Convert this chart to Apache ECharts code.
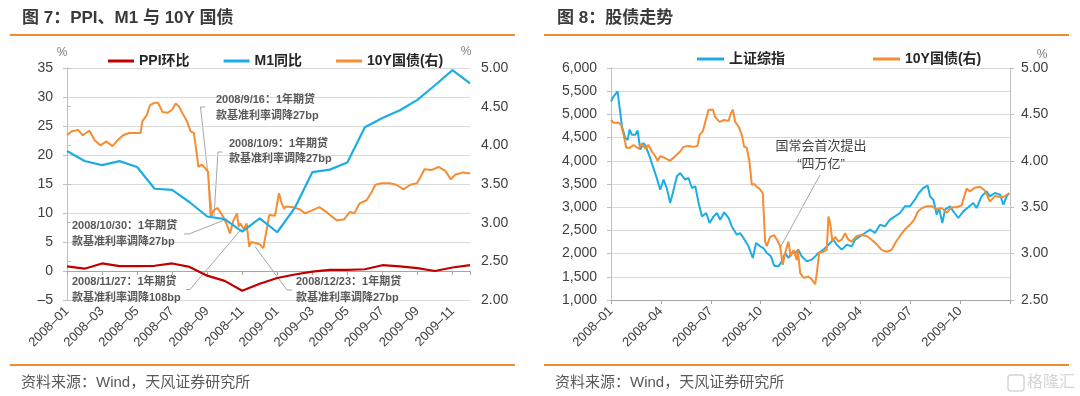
<!DOCTYPE html>
<html>
<head>
<meta charset="utf-8">
<script src="https://cdn.jsdelivr.net/npm/echarts@6/dist/echarts.min.js"></script>
<style>
html, body { margin: 0; padding: 0; background: #fff; }
#main { width: 1080px; height: 396px; }
</style>
</head>
<body>
<div id="main"></div>
<script>
// ---- figure 7: PPI / M1 / 10Y ----
var months7 = ['2008-01','2008-02','2008-03','2008-04','2008-05','2008-06','2008-07','2008-08','2008-09','2008-10','2008-11','2008-12',
               '2009-01','2009-02','2009-03','2009-04','2009-05','2009-06','2009-07','2009-08','2009-09','2009-10','2009-11','2009-12'];
var ppiMoM = [0.8, 0.4, 1.3, 0.85, 0.85, 0.9, 1.3, 0.7, -0.8, -1.7, -3.4, -2.2,
              -1.2, -0.6, -0.1, 0.2, 0.2, 0.3, 1.0, 0.8, 0.5, 0.0, 0.6, 1.0];
var m1YoY = [20.69, 18.97, 18.25, 18.94, 17.93, 14.18, 14.0, 11.85, 9.4, 8.94, 6.8, 9.06,
             6.68, 10.87, 17.04, 17.48, 18.69, 24.79, 26.37, 27.72, 29.51, 32.03, 34.63, 32.35];
// 10Y yield, x = months since 2008-01
var bond7X = [0, 0.25, 0.63, 0.9, 1.28, 1.57, 1.9, 2.25, 2.6, 2.9, 3.2, 3.55, 4.2, 4.3, 4.55, 4.74, 4.98, 5.2, 5.45, 5.73,
              6.0, 6.2, 6.4, 6.6, 6.85, 7.05, 7.24, 7.4, 7.5, 7.7, 7.9, 8.05, 8.1, 8.2, 8.37, 8.6, 8.9, 9.1, 9.3, 9.5,
              9.7, 9.8, 9.9, 10.1, 10.25, 10.4, 10.5, 10.7, 11.0, 11.2, 11.43, 11.54, 11.87, 12.1, 12.25, 12.4, 12.5, 12.9, 13.3, 13.6,
              14.0, 14.4, 14.8, 15.0, 15.4, 15.8, 16.15, 16.4, 16.7, 17.1, 17.4, 17.6, 17.97, 18.4, 18.8, 19.2, 19.6, 19.97, 20.25, 20.4,
              20.8, 21.2, 21.6, 21.9, 22.15, 22.6, 22.9, 23];
var bond7Y = [4.13, 4.18, 4.20, 4.13, 4.19, 4.07, 4.00, 4.05, 3.99, 4.07, 4.13, 4.16, 4.16, 4.31, 4.39, 4.52, 4.55, 4.55, 4.43, 4.42,
              4.46, 4.54, 4.50, 4.41, 4.31, 4.18, 4.16, 3.90, 3.72, 3.75, 3.70, 3.66, 3.47, 3.08, 3.16, 3.19, 3.08, 2.99, 2.86, 3.03,
              3.12, 2.95, 2.99, 2.91, 2.99, 2.69, 2.75, 2.74, 2.72, 2.67, 2.95, 3.10, 3.09, 3.38, 3.25, 3.18, 3.21, 3.20, 3.17, 3.12,
              3.16, 3.20, 3.14, 3.10, 3.03, 3.04, 3.14, 3.12, 3.25, 3.29, 3.40, 3.49, 3.51, 3.51, 3.49, 3.43, 3.49, 3.51, 3.62, 3.69,
              3.68, 3.72, 3.67, 3.56, 3.62, 3.65, 3.64, 3.64];

// ---- figure 8: SH composite / 10Y ----
var quarters8 = ['2008-01','2008-04','2008-07','2008-10','2009-01','2009-04','2009-07','2009-10'];
var sh8X = [0, 0.16, 0.4, 0.52, 0.66, 0.86, 1.0, 1.12, 1.26, 1.46, 1.6, 1.76, 1.96, 2.1, 2.32, 2.52, 2.72, 2.96, 3.16, 3.36,
            3.56, 3.72, 3.96, 4.16, 4.46, 4.66, 4.87, 5.07, 5.27, 5.47, 5.73, 5.93, 6.17, 6.37, 6.57, 6.81, 7.07, 7.27, 7.57, 7.77,
            7.97, 8.27, 8.53, 8.73, 8.97, 9.17, 9.37, 9.62, 9.81, 10.07, 10.28, 10.48, 10.67, 10.87, 11.08, 11.27, 11.47, 11.78, 12.08, 12.28,
            12.48, 12.78, 13.08, 13.38, 13.58, 13.88, 14.18, 14.48, 14.68, 14.98, 15.28, 15.58, 15.88, 16.18, 16.48, 16.78, 17.08, 17.38, 17.68, 17.98,
            18.28, 18.52, 18.78, 19.05, 19.19, 19.39, 19.59, 19.73, 19.93, 20.09, 20.39, 20.59, 20.89, 21.19, 21.49, 21.79, 21.99, 22.29, 22.59, 22.79,
            23.09, 23.4, 23.6, 23.8, 23.95];
var sh8Y = [5280, 5390, 5496, 5138, 4741, 4491, 4450, 4670, 4560, 4560, 4655, 4240, 4384, 4300, 4095, 3880, 3664, 3377, 3593, 3400,
            3090, 3306, 3664, 3737, 3593, 3630, 3414, 3450, 3090, 2802, 2875, 2660, 2802, 2875, 2730, 2890, 2770, 2586, 2408, 2440,
            2336, 2156, 1905, 2229, 2156, 2120, 2013, 1941, 1740, 1726, 1832, 2013, 1905, 2013, 2013, 2085, 1941, 1832, 1870, 1941,
            2013, 2085, 2192, 2300, 2192, 2085, 2192, 2156, 2300, 2372, 2444, 2515, 2444, 2623, 2587, 2731, 2802, 2875, 3018, 3018,
            3162, 3306, 3414, 3464, 3233, 3162, 2838, 2982, 2660, 2946, 3018, 2910, 2767, 2910, 3000, 3090, 2983, 3233, 3342, 3233,
            3306, 3270, 3054, 3233, 3306];
var bond8X = [0, 0.16, 0.46, 0.6, 0.76, 0.92, 1.12, 1.36, 1.66, 1.86, 2.06, 2.26, 2.46, 2.66, 2.8, 2.96, 3.26, 3.56, 3.86, 4.16,
              4.36, 4.66, 4.96, 5.2, 5.33, 5.53, 5.73, 5.87, 6.13, 6.27, 6.53, 6.8, 7.07, 7.21, 7.33, 7.47, 7.67, 7.87, 8.01, 8.17,
              8.33, 8.47, 8.61, 8.77, 8.93, 9.13, 9.27, 9.37, 9.57, 9.81, 10.01, 10.17, 10.33, 10.48, 10.67, 10.81, 10.98, 11.18, 11.24, 11.38,
              11.58, 11.88, 12.08, 12.28, 12.38, 12.52, 12.78, 12.98, 13.08, 13.18, 13.32, 13.48, 13.68, 13.88, 14.08, 14.28, 14.48, 14.78, 15.08, 15.38,
              15.68, 15.98, 16.28, 16.58, 16.88, 17.08, 17.38, 17.68, 17.98, 18.25, 18.45, 18.7, 18.99, 19.29, 19.59, 19.89, 20.19, 20.49, 20.79, 21.09,
              21.39, 21.59, 21.89, 22.19, 22.49, 22.79, 23.09, 23.4, 23.6, 23.95];
var bond8Y = [4.44, 4.41, 4.41, 4.39, 4.28, 4.14, 4.14, 4.17, 4.13, 4.19, 4.13, 4.17, 4.10, 4.05, 4.00, 4.05, 4.03, 4.00, 4.05, 4.10,
              4.15, 4.16, 4.15, 4.16, 4.28, 4.32, 4.46, 4.55, 4.55, 4.47, 4.42, 4.44, 4.43, 4.51, 4.55, 4.42, 4.37, 4.28, 4.15, 4.14,
              3.99, 3.74, 3.75, 3.72, 3.70, 3.65, 3.13, 3.08, 3.18, 3.20, 3.14, 3.08, 2.88, 3.01, 3.13, 2.97, 3.04, 2.93, 3.04, 2.79,
              2.74, 2.75, 2.72, 2.67, 2.79, 3.01, 3.02, 3.04, 3.40, 3.33, 3.13, 3.18, 3.13, 3.15, 3.22, 3.15, 3.13, 3.19, 3.20, 3.19,
              3.15, 3.10, 3.04, 3.02, 3.04, 3.11, 3.19, 3.26, 3.31, 3.37, 3.45, 3.49, 3.51, 3.51, 3.48, 3.49, 3.44, 3.50, 3.50, 3.52,
              3.70, 3.67, 3.71, 3.72, 3.68, 3.56, 3.62, 3.61, 3.61, 3.65];

function zip(xs, ys) { return xs.map(function (x, i) { return [x, ys[i]]; }); }
function idx(arr) { return arr.map(function (v, i) { return [i, v]; }); }
function dash(s) { return String(s).replace('-', '–'); }

var RED = '#C00000', BLUE = '#1DADE5', ORANGE = '#F58D33';
var GRID = '#D9D9D9', AXIS = '#BFBFBF', LABEL = '#404040';
var FONT = "'Liberation Sans', Arial, 'Noto Sans CJK SC', sans-serif";

var chart = echarts.init(document.getElementById('main'), null, { renderer: 'canvas' });

function valueY(gridIndex, min, max, interval, pos, fmt, split) {
  return {
    type: 'value', gridIndex: gridIndex, position: pos, min: min, max: max, interval: interval,
    axisLine: { show: true, lineStyle: { color: AXIS } },
    axisTick: { show: true, length: 4, lineStyle: { color: AXIS } },
    axisLabel: { color: LABEL, fontSize: 14, margin: pos === 'left' ? 14 : 11, formatter: fmt },
    splitLine: { show: split, lineStyle: { color: GRID } }
  };
}

// annotations (figure 7)
var notes7 = [
  { l1: '2008/9/16：1年期贷', l2: '款基准利率调降27bp', x: 216, y: 100, line: [[205, 107], [200.5, 107], [212.5, 216]] },
  { l1: '2008/10/9：1年期贷', l2: '款基准利率调降27bp', x: 229, y: 143.5, line: [[222.5, 152], [218, 152], [214, 216]] },
  { l1: '2008/10/30：1年期贷', l2: '款基准利率调降27bp', x: 72, y: 226, line: [[184, 234], [189, 234], [227, 219]] },
  { l1: '2008/11/27：1年期贷', l2: '款基准利率调降108bp', x: 72, y: 282, line: [[186, 289.5], [190, 289.5], [241.5, 229]] },
  { l1: '2008/12/23：1年期贷', l2: '款基准利率调降27bp', x: 296, y: 282, line: [[292, 290], [287, 290], [255, 246.5]] }
];

var graphics = [];
function text(x, y, s, opt) {
  var st = { x: x, y: y, text: s, fill: opt.color || LABEL, fontSize: opt.size || 14,
             fontWeight: opt.bold ? 'bold' : 'normal', fontFamily: FONT,
             textAlign: opt.align || 'left', textVerticalAlign: 'middle' };
  graphics.push({ type: 'text', silent: true, z: 10, style: st });
}
function hline(x1, x2, y) {
  graphics.push({ type: 'line', silent: true, shape: { x1: x1, y1: y, x2: x2, y2: y },
                  style: { stroke: '#F08C2E', lineWidth: 2 } });
}

// headings, rules and sources
text(22, 18, '图 7：PPI、M1 与 10Y 国债', { size: 17, bold: true, color: '#3A3A3A' });
text(557, 18, '图 8：股债走势', { size: 17, bold: true, color: '#3A3A3A' });
hline(10, 515, 35);
hline(544, 1069, 35);
hline(10, 515, 365);
hline(544, 1069, 365);
text(21, 383, '资料来源：Wind，天风证券研究所', { size: 15, color: '#595959' });
text(555, 383, '资料来源：Wind，天风证券研究所', { size: 15, color: '#595959' });
graphics.push({ type: 'rect', silent: true, shape: { x: 1008, y: 375, width: 16, height: 16, r: 3 },
                style: { fill: 'none', stroke: '#D5D5D5', lineWidth: 1.5 } });
text(1027, 383, '格隆汇', { size: 16, color: '#D5D5D5' });

// units
text(62, 53, '%', { size: 12, color: '#7F7F7F', align: 'center' });
text(466, 52, '%', { size: 12, color: '#7F7F7F', align: 'center' });
text(1042, 55, '%', { size: 12, color: '#7F7F7F', align: 'center' });

notes7.forEach(function (n) {
  graphics.push({ type: 'polyline', silent: true, shape: { points: n.line },
                  style: { stroke: '#A6A6A6', lineWidth: 1, fill: 'none' } });
  text(n.x, n.y, n.l1, { size: 11, bold: true, color: '#595959' });
  text(n.x, n.y + 15.5, n.l2, { size: 11, bold: true, color: '#595959' });
});

graphics.push({ type: 'line', silent: true, shape: { x1: 820, y1: 175, x2: 780, y2: 248 },
                style: { stroke: '#A6A6A6', lineWidth: 1 } });
text(821, 146, '国常会首次提出', { size: 13, color: '#404040', align: 'center' });
text(821, 164.5, '“四万亿”', { size: 13, color: '#404040', align: 'center' });

var option = {
  animation: false,
  backgroundColor: '#fff',
  textStyle: { fontFamily: FONT },
  legend: [
    { data: ['PPI环比', 'M1同比', '10Y国债(右)'], left: 103, top: 49, icon: 'rect', itemWidth: 26, itemHeight: 3,
      itemGap: 34, textStyle: { fontSize: 14, fontWeight: 'bold', color: '#262626' } },
    { data: ['上证综指', '10Y国债(右)'], left: 692, top: 47, icon: 'rect', itemWidth: 27, itemHeight: 3,
      itemGap: 88, textStyle: { fontSize: 14, fontWeight: 'bold', color: '#262626' } }
  ],
  grid: [
    { left: 67, top: 68, width: 403, height: 232 },
    { left: 611, top: 68, width: 399, height: 232 }
  ],
  xAxis: [
    { type: 'value', gridIndex: 0, position: 'bottom', min: 0, max: 23, interval: 2,
      axisLine: { onZero: true, lineStyle: { color: '#A6A6A6' } },
      axisTick: { show: true, length: 4, lineStyle: { color: '#A6A6A6' } },
      axisLabel: { show: false }, splitLine: { show: false } },
    { type: 'value', gridIndex: 0, position: 'bottom', min: 0, max: 23, interval: 2,
      axisLine: { show: false, onZero: false }, axisTick: { show: false }, splitLine: { show: false },
      axisLabel: { color: LABEL, fontSize: 13, rotate: 45, margin: 9,
        formatter: function (v) { return v % 2 === 0 && months7[v] ? dash(months7[v]) : ''; } } },
    { type: 'value', gridIndex: 1, position: 'bottom', min: 0, max: 24, interval: 3,
      axisLine: { onZero: false, lineStyle: { color: '#A6A6A6' } },
      axisTick: { show: true, length: 4, lineStyle: { color: '#A6A6A6' } },
      splitLine: { show: false },
      axisLabel: { color: LABEL, fontSize: 13, rotate: 45, margin: 9,
        formatter: function (v) { return quarters8[v / 3] ? dash(quarters8[v / 3]) : ''; } } }
  ],
  yAxis: [
    valueY(0, -5, 35, 5, 'left', function (v) { return v < 0 ? '–' + Math.abs(v) : String(v); }, true),
    valueY(0, 2, 5, 0.5, 'right', function (v) { return v.toFixed(2); }, false),
    valueY(1, 1000, 6000, 500, 'left', function (v) { return v.toLocaleString('en-US'); }, true),
    valueY(1, 2.5, 5, 0.5, 'right', function (v) { return v.toFixed(2); }, false)
  ],
  series: [
    { name: 'PPI环比', type: 'line', xAxisIndex: 0, yAxisIndex: 0, data: idx(ppiMoM), showSymbol: false,
      lineStyle: { color: RED, width: 2.2 }, itemStyle: { color: RED }, z: 3 },
    { name: 'M1同比', type: 'line', xAxisIndex: 0, yAxisIndex: 0, data: idx(m1YoY), showSymbol: false,
      lineStyle: { color: BLUE, width: 2.2 }, itemStyle: { color: BLUE }, z: 3 },
    { name: '10Y国债(右)', type: 'line', xAxisIndex: 0, yAxisIndex: 1, data: zip(bond7X, bond7Y), showSymbol: false,
      lineStyle: { color: ORANGE, width: 2 }, itemStyle: { color: ORANGE }, z: 2 },
    { name: '上证综指', type: 'line', xAxisIndex: 2, yAxisIndex: 2, data: zip(sh8X, sh8Y), showSymbol: false,
      lineStyle: { color: BLUE, width: 2 }, itemStyle: { color: BLUE }, z: 2 },
    { name: '10Y国债(右)', type: 'line', xAxisIndex: 2, yAxisIndex: 3, data: zip(bond8X, bond8Y), showSymbol: false,
      lineStyle: { color: ORANGE, width: 2 }, itemStyle: { color: ORANGE }, z: 3 }
  ],
  graphic: graphics
};

chart.setOption(option);
</script>
</body>
</html>
